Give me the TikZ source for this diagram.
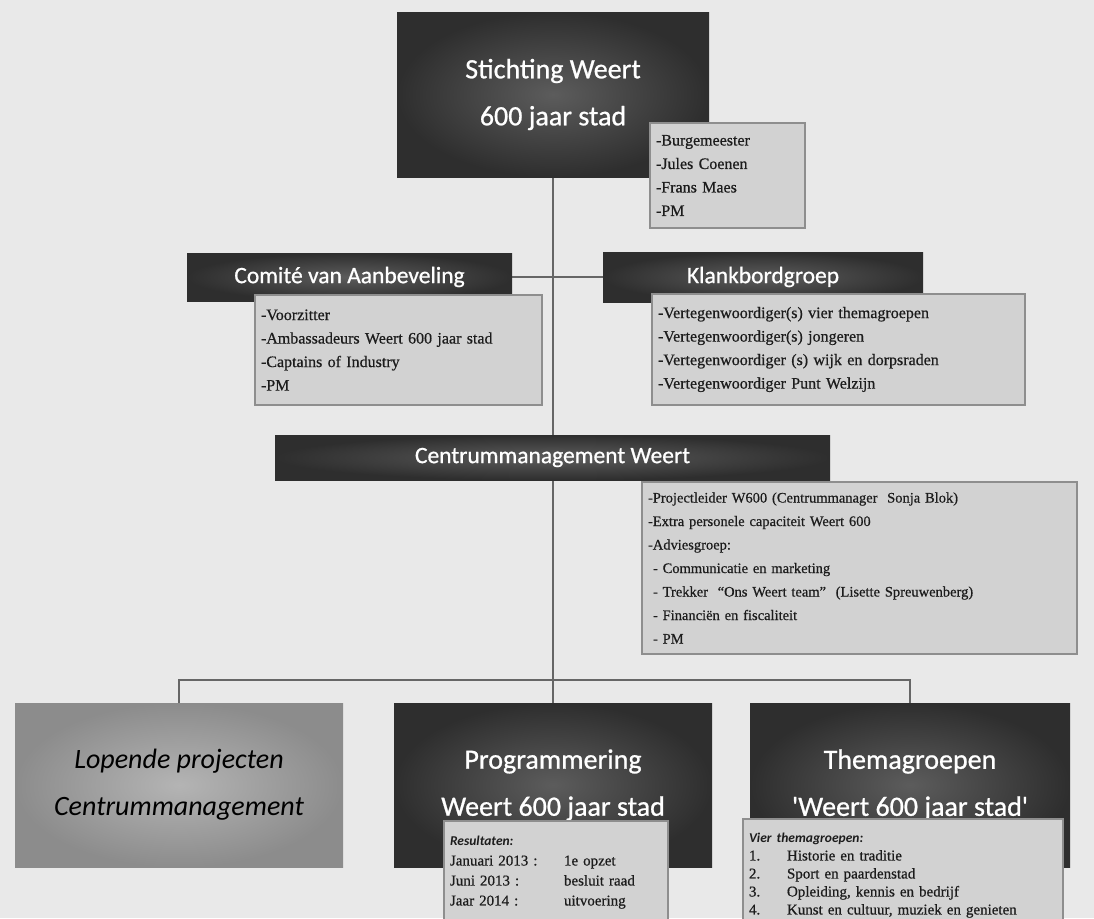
\documentclass[tikz,border=0pt]{standalone}
\usepackage{fontspec}
\setmainfont{Liberation Serif}
\newfontfamily\lstfont[FakeBold=0.6]{Liberation Serif}
\newfontfamily\hdfont[FakeBold=0.8]{Carlito}
\newfontfamily\capfont{Carlito}
\pgfdeclarelayer{background}
\pgfsetlayers{background,main}
\definecolor{bgc}{HTML}{E9E9E9}
\definecolor{hdin}{HTML}{5C5C5C}
\definecolor{hdout}{HTML}{2E2E2E}
\definecolor{lopin}{HTML}{B4B4B4}
\definecolor{lopout}{HTML}{8C8C8C}
\definecolor{lfill}{HTML}{D2D2D2}
\definecolor{lbord}{HTML}{8E8E8E}
\definecolor{ltext}{HTML}{1C1C1C}
\definecolor{conn}{HTML}{666666}
\begin{document}
\begin{tikzpicture}[x=1pt,y=-1pt,
  hdr/.style={draw=none, inner color=hdin, outer color=hdout, text=white,
    font=\hdfont\fontsize{28}{47}\selectfont, align=center, inner sep=0pt},
  subhdr/.style={hdr, font=\hdfont\fontsize{23.5}{28}\selectfont},
  lophdr/.style={hdr, inner color=lopin, outer color=lopout, text=black,
    font=\capfont\itshape\fontsize{28}{47}\selectfont},
  lst/.style={draw=lbord, line width=2pt, fill=lfill, text=ltext, align=left,
    inner xsep=6pt, inner ysep=0pt, font=\lstfont\fontsize{16}{23.5}\selectfont},
  lstb/.style={lst, inner ysep=15pt, font=\lstfont\fontsize{15}{20}\selectfont},
  connector/.style={draw=conn, line width=2pt}]
\clip (0,0) rectangle (1094,918);

% headers
\node[hdr, minimum width=312pt, minimum height=165pt] (st) at (553,94.5) {Stichting Weert\\600 jaar stad};
\node[lst, minimum width=155pt, text width=143pt, minimum height=105pt] (bm) at (727.5,175.5)
  {-Burgemeester\\-Jules Coenen\\-Frans Maes\\-PM};

\node[subhdr, minimum width=325pt, minimum height=48pt] (com) at (349.5,277) {Comité van Aanbeveling};
\node[lst, minimum width=287pt, text width=275pt, minimum height=110pt] (coml) at (398.5,350)
  {-Voorzitter\\-Ambassadeurs Weert 600 jaar stad\\-Captains of Industry\\-PM};

\node[subhdr, minimum width=320pt, minimum height=50pt] (kl) at (763,277) {Klankbordgroep};
\node[lst, minimum width=373pt, text width=361pt, minimum height=111pt] (kll) at (838.5,349.5)
  {-Vertegenwoordiger(s) vier themagroepen\\-Vertegenwoordiger(s) jongeren\\-Vertegenwoordiger (s) wijk en dorpsraden\\-Vertegenwoordiger Punt Welzijn};

\node[subhdr, minimum width=555pt, minimum height=45pt] (cm) at (552.5,457.5) {Centrummanagement Weert};
\node[lst, font=\lstfont\fontsize{14.5}{23.5}\selectfont, minimum width=435pt, text width=423pt, minimum height=172pt] (cml) at (859.5,568)
  {-Projectleider W600 (Centrummanager~~Sonja Blok)\\
   -Extra personele capaciteit Weert 600\\
   -Adviesgroep:\\
   \hspace*{5pt}- Communicatie en marketing\\
   \hspace*{5pt}- Trekker~~“Ons Weert team”~~(Lisette Spreuwenberg)\\
   \hspace*{5pt}- Financiën en fiscaliteit\\
   \hspace*{5pt}- PM};

% bottom row
\node[lophdr, minimum width=328pt, minimum height=164pt] (lop) at (179,785) {Lopende projecten\\Centrummanagement};
\node[hdr, minimum width=318pt, minimum height=164pt] (prog) at (553,785) {Programmering\\Weert 600 jaar stad};
\node[hdr, minimum width=320pt, minimum height=164pt] (thema) at (910,785) {Themagroepen\\'Weert 600 jaar stad'};

\node[lstb, anchor=north west, text width=212pt] (progl) at (443,820)
  {{\capfont\bfseries\itshape\fontsize{13.5}{20}\selectfont Resultaten:}\\
   \makebox[114pt][l]{Januari 2013 :}1e opzet\\
   \makebox[114pt][l]{Juni 2013 :}besluit raad\\
   \makebox[114pt][l]{Jaar 2014 :}uitvoering};
\node[lstb, anchor=north west, text width=308pt, inner ysep=14pt, font=\lstfont\fontsize{15}{18}\selectfont] (thl) at (742,818)
  {{\capfont\bfseries\itshape\fontsize{13.5}{18}\selectfont Vier themagroepen:}\\
   \makebox[38pt][l]{1.}Historie en traditie\\
   \makebox[38pt][l]{2.}Sport en paardenstad\\
   \makebox[38pt][l]{3.}Opleiding, kennis en bedrijf\\
   \makebox[38pt][l]{4.}Kunst en cultuur, muziek en genieten};

\coordinate (hub) at (553,680);

\begin{pgfonlayer}{background}
\fill[bgc] (0,0) rectangle (1094,918);
\draw[connector] (st.south) -- (hub);
\draw[connector] (com.east) -- (kl.west);
\draw[connector] (lop.north) |- (hub) -| (thema.north);
\draw[connector] (hub) -- (prog.north);
\end{pgfonlayer}
\end{tikzpicture}
\end{document}
